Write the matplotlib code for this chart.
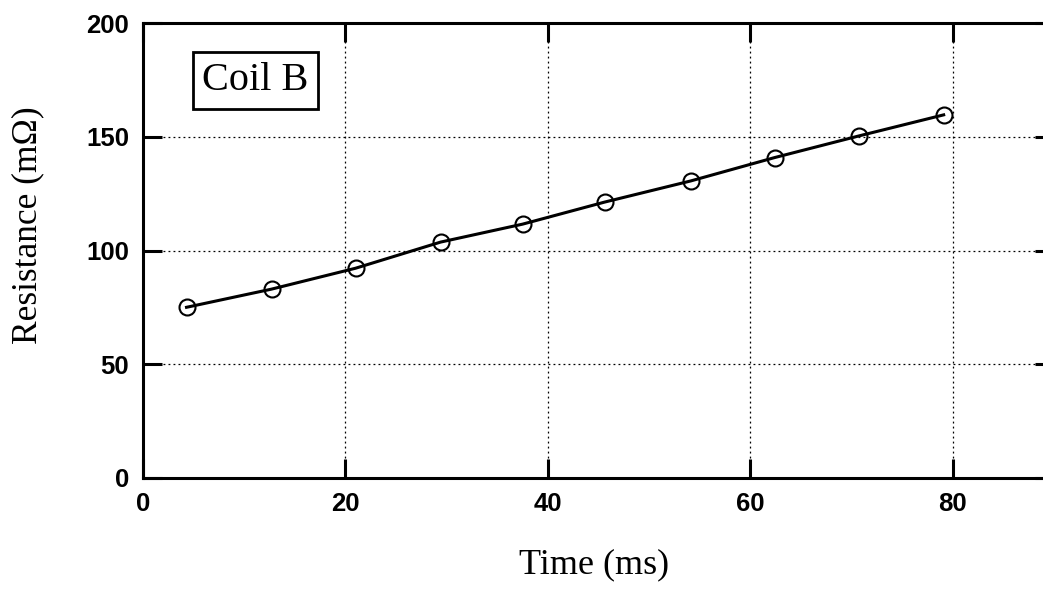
import matplotlib
matplotlib.use("Agg")
import matplotlib.pyplot as plt

# Coil B resistance vs. time
time_ms = [4.3, 12.7, 21.0, 29.4, 37.5, 45.6, 54.1, 62.4, 70.7, 79.1]
resistance_mohm = [75.0, 83.0, 92.2, 103.7, 111.6, 121.3, 130.6, 140.9, 150.4, 159.7]
x_ticks = [0, 20, 40, 60, 80]
y_ticks = [0, 50, 100, 150, 200]

fig = plt.figure(figsize=(10.43, 5.91), dpi=100)
ax = fig.add_axes([143 / 1043, 1 - 477.7 / 591, 911 / 1043, 454.4 / 591])

ax.plot(time_ms, resistance_mohm, color="black", lw=2.2, marker="o",
        markersize=11.5, markerfacecolor="none", markeredgecolor="black",
        markeredgewidth=1.5, zorder=3)

ax.set_xlim(0, 90)
ax.set_ylim(0, 200)
ax.set_xticks(x_ticks)
ax.set_yticks(y_ticks)
ax.grid(True, color="black", linestyle=(0, (1.5, 2.5)), linewidth=0.9)

for s in ax.spines.values():
    s.set_linewidth(2.2)
ax.tick_params(direction="in", length=14, width=2.2, top=True, right=True,
               pad=10)
for lab in ax.get_xticklabels() + ax.get_yticklabels():
    lab.set_fontfamily("Liberation Sans")
    lab.set_fontweight("bold")
    lab.set_fontsize(18.5)

fig.text(594 / 1043, 1 - 565 / 591, "Time (ms)", family="Liberation Serif",
         fontsize=26, ha="center", va="center")
fig.text(28 / 1043, 1 - 225 / 591, "Resistance (m\u03a9)",
         family="Liberation Serif", fontsize=25.5, rotation=90,
         ha="center", va="center")

ax.text(0.1235, 0.874, "Coil B", transform=ax.transAxes,
        family="Liberation Serif", fontsize=29, ha="center", va="center",
        bbox=dict(boxstyle="square,pad=0.24", facecolor="white",
                  edgecolor="black", linewidth=2))

fig.savefig("out.png", dpi=100)
